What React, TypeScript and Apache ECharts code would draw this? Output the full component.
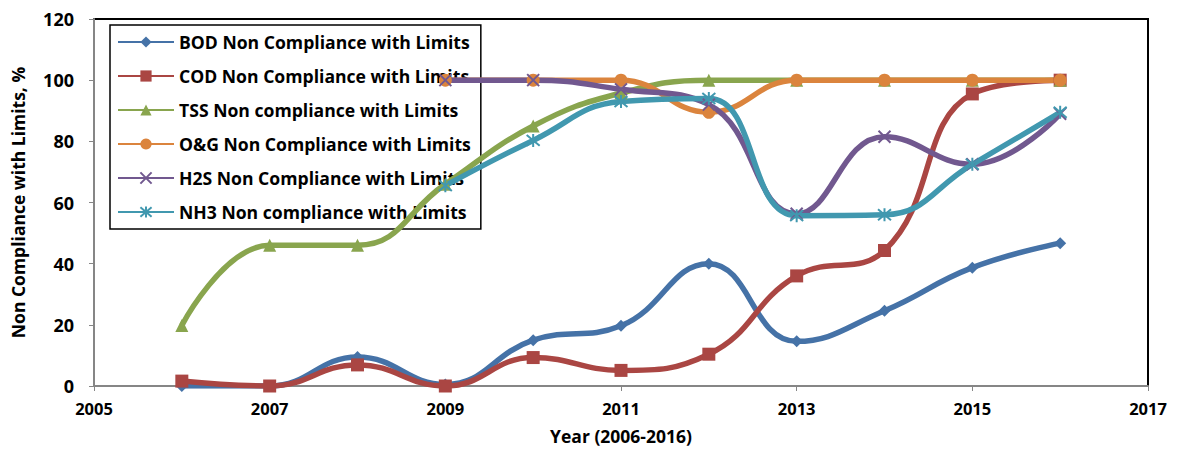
import React, { useEffect, useRef } from "react";
import * as echarts from "echarts";

// Survey years
const years = [2006, 2007, 2008, 2009, 2010, 2011, 2012, 2013, 2014, 2015, 2016];
const yearsFrom2009 = [2009, 2010, 2011, 2012, 2013, 2014, 2015, 2016];

// Non-compliance percentages per parameter
const bodValues = [0, 0, 9.5, 0.5, 15, 19.7, 40, 14.6, 24.6, 38.7, 46.7];
const codValues = [1.6, 0, 6.9, 0, 9.3, 5.1, 10.4, 36, 44.3, 95.5, 100];
const tssValues = [19.8, 46, 46, 66, 85, 95.8, 100, 100, 100, 100, 100];
const ogValues = [100, 100, 100, 89.5, 100, 100, 100, 100];
const h2sValues = [100, 100, 97, 92, 56.3, 81.5, 72.5, 89];
const nh3Values = [65.5, 80.3, 93, 94, 55.7, 56, 72.5, 89.5];

const seriesNames = [
  "BOD Non Compliance with Limits",
  "COD Non Compliance with Limits",
  "TSS Non compliance with Limits",
  "O&G Non Compliance with Limits",
  "H2S Non Compliance with Limits",
  "NH3 Non compliance with Limits",
];

const xTicks = { min: 2005, max: 2017, interval: 2 };
const yTicks = { min: 0, max: 120, interval: 20 };

const colors = ["#4572A7", "#AA4643", "#89A54E", "#DB843D", "#71588F", "#4198AF"];

const crossPath = "path://M0,0L10,10M10,0L0,10";
const starPath = "path://M0,0L10,10M10,0L0,10M5,-1L5,11";

const symbols = ["diamond", "rect", "triangle", "circle", crossPath, starPath];
const symbolSizes = [12, 13, 13, 13, 12, 13];

const pair = (xs: number[], ys: number[]) => xs.map((x, i) => [x, ys[i]]);

const FONT = "'Open Sans', Lato, sans-serif";

export default function App() {
  const ref = useRef<HTMLDivElement>(null);

  useEffect(() => {
    if (!ref.current) return;
    const chart = echarts.init(ref.current, undefined, { renderer: "svg" });

    const dataSets = [
      pair(years, bodValues),
      pair(years, codValues),
      pair(years, tssValues),
      pair(yearsFrom2009, ogValues),
      pair(yearsFrom2009, h2sValues),
      pair(yearsFrom2009, nh3Values),
    ];

    chart.setOption({
      animation: false,
      textStyle: { fontFamily: FONT },
      grid: {
        left: 94,
        right: 32,
        top: 19,
        bottom: 62,
        show: true,
        borderColor: "#000",
        borderWidth: 2,
        backgroundColor: "transparent",
      },
      legend: {
        orient: "vertical",
        left: 110,
        top: 25,
        z: 1,
        data: seriesNames,
        itemWidth: 56,
        itemHeight: 14,
        itemGap: 14,
        padding: [7, 10, 7, 7],
        borderColor: "#000",
        borderWidth: 1.5,
        textStyle: {
          fontFamily: FONT,
          fontWeight: "bold",
          fontSize: 17.6,
          lineHeight: 20,
          color: "#000",
        },
      },
      xAxis: {
        type: "value",
        min: xTicks.min,
        max: xTicks.max,
        interval: xTicks.interval,
        name: "Year (2006-2016)",
        nameLocation: "middle",
        nameGap: 41,
        nameTextStyle: { fontWeight: "bold", fontSize: 17.5, color: "#000", fontFamily: FONT },
        splitLine: { show: false },
        axisLine: { lineStyle: { color: "#868686", width: 2 } },
        axisTick: { show: true, length: 5, lineStyle: { color: "#868686", width: 1 } },
        axisLabel: {
          fontWeight: "bold",
          fontSize: 16.5,
          color: "#000",
          margin: 14,
          fontFamily: FONT,
          formatter: (v: number) => String(v),
        },
      },
      yAxis: {
        type: "value",
        min: yTicks.min,
        max: yTicks.max,
        interval: yTicks.interval,
        name: "Non Compliance with Limits, %",
        nameLocation: "middle",
        nameGap: 67,
        nameTextStyle: { fontWeight: "bold", fontSize: 17.5, color: "#000", fontFamily: FONT },
        splitLine: { show: false },
        axisLine: { show: true, lineStyle: { color: "#868686", width: 2 } },
        axisTick: { show: true, length: 5, inside: false, lineStyle: { color: "#868686", width: 1 } },
        axisLabel: {
          fontWeight: "bold",
          fontSize: 18,
          color: "#000",
          margin: 20,
          fontFamily: FONT,
        },
      },
      series: seriesNames.map((name, i) => ({
        name,
        type: "line",
        data: dataSets[i],
        smooth: 0.45,
        symbol: symbols[i],
        symbolSize: symbolSizes[i],
        showSymbol: true,
        z: 3,
        lineStyle: { color: colors[i], width: 5.5 },
        itemStyle: {
          color: colors[i],
          borderColor: colors[i],
          borderWidth: i >= 4 ? 2 : 0,
        },
        emphasis: { disabled: true },
      })),
    });

    return () => chart.dispose();
  }, []);

  return (
    <div
      ref={ref}
      style={{ position: "fixed", left: 0, top: 0, width: 1180, height: 450, background: "#fff" }}
    />
  );
}
